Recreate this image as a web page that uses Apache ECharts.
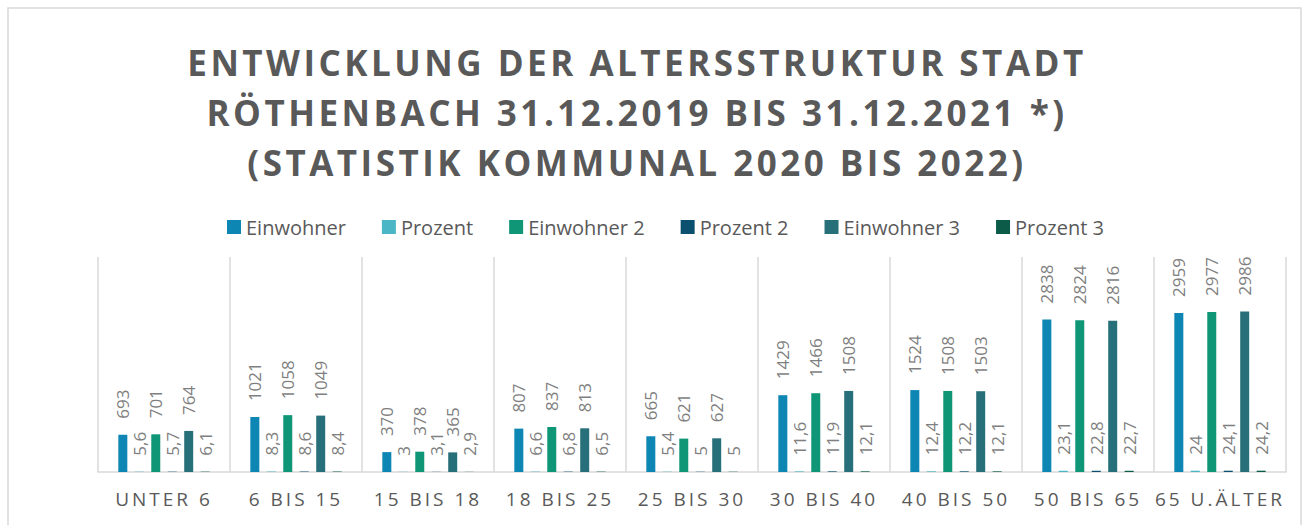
<!DOCTYPE html>
<html>
<head>
<meta charset="utf-8">
<script src="https://cdn.jsdelivr.net/npm/echarts@6/dist/echarts.min.js"></script>
<style>
  html, body { margin: 0; padding: 0; background: #fff; }
  #chart { width: 1306px; height: 525px; }
  /* spaced capitals for title and category labels */
  #chart text[style*="35px"] { letter-spacing: 3.5px; }
  #chart text[style*="19px"] { letter-spacing: 3px; }
</style>
</head>
<body>
<div id="chart"></div>
<script>
var categories = ['UNTER 6', '6 BIS 15', '15 BIS 18', '18 BIS 25', '25 BIS 30', '30 BIS 40', '40 BIS 50', '50 BIS 65', '65 U.ÄLTER'];
var einwohner  = [693, 1021, 370, 807, 665, 1429, 1524, 2838, 2959];
var prozent    = [5.6, 8.3, 3, 6.6, 5.4, 11.6, 12.4, 23.1, 24];
var einwohner2 = [701, 1058, 378, 837, 621, 1466, 1508, 2824, 2977];
var prozent2   = [5.7, 8.6, 3.1, 6.8, 5, 11.9, 12.2, 22.8, 24.1];
var einwohner3 = [764, 1049, 365, 813, 627, 1508, 1503, 2816, 2986];
var prozent3   = [6.1, 8.4, 2.9, 6.5, 5, 12.1, 12.1, 22.7, 24.2];

var seriesNames  = ['Einwohner', 'Prozent', 'Einwohner 2', 'Prozent 2', 'Einwohner 3', 'Prozent 3'];
var seriesData   = [einwohner, prozent, einwohner2, prozent2, einwohner3, prozent3];
var seriesColors = ['#0e86b4', '#4bb6c5', '#0f9676', '#0c5070', '#287079', '#0b5b48'];

var font = '"Open Sans", "Noto Sans", sans-serif';

var chart = echarts.init(document.getElementById('chart'), null, { renderer: 'svg' });

var series = seriesNames.map(function (name, i) {
    return {
        name: name,
        type: 'bar',
        data: seriesData[i],
        barWidth: 9,
        barGap: '83%',
        itemStyle: { color: seriesColors[i] },
        label: {
            show: true,
            position: 'top',
            rotate: 90,
            align: 'left',
            verticalAlign: 'middle',
            distance: 16,
            color: '#7f7f7f',
            fontFamily: font,
            fontSize: 17,
            formatter: function (p) {
                return String(p.value).replace('.', ',');
            }
        }
    };
});

chart.setOption({
    animation: false,
    backgroundColor: '#fff',
    color: seriesColors,
    title: {
        text: 'ENTWICKLUNG DER ALTERSSTRUKTUR STADT\nRÖTHENBACH 31.12.2019 BIS 31.12.2021 *)\n(STATISTIK KOMMUNAL 2020 BIS 2022)',
        left: 632,
        top: 32,
        textAlign: 'center',
        textStyle: {
            fontFamily: font,
            fontWeight: 'bold',
            fontSize: 35,
            lineHeight: 50,
            color: '#595959'
        }
    },
    legend: {
        data: seriesNames,
        left: 222,
        top: 212,
        itemWidth: 14,
        itemHeight: 14,
        itemGap: 36,
        icon: 'rect',
        textStyle: { fontFamily: font, fontSize: 20, color: '#595959' }
    },
    grid: { left: 98, right: 20, top: 257, bottom: 53 },
    xAxis: {
        type: 'category',
        data: categories,
        axisLine: { lineStyle: { color: '#d9d9d9', width: 1.5 } },
        axisTick: { show: false },
        splitLine: { show: true, lineStyle: { color: '#d9d9d9', width: 1.5 } },
        axisLabel: { fontFamily: font, fontSize: 19, color: '#595959', margin: 17 }
    },
    yAxis: {
        type: 'value',
        min: 0,
        max: 4000,
        interval: 1000,
        show: false,
        splitLine: { show: false }
    },
    graphic: [{
        type: 'rect',
        shape: { x: 8, y: 8, width: 1293, height: 600 },
        style: { fill: null, stroke: '#d9d9d9', lineWidth: 1.5 },
        silent: true,
        z: -1
    }],
    series: series
});
</script>
</body>
</html>
